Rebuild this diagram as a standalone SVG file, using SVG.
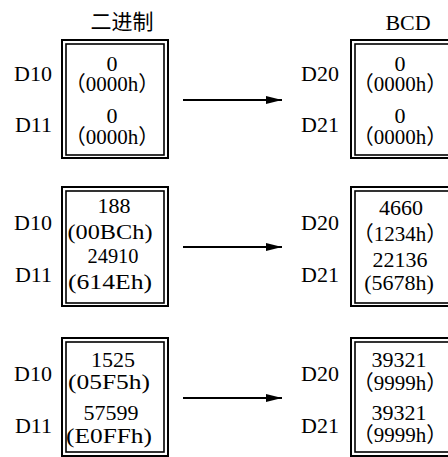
<svg xmlns="http://www.w3.org/2000/svg" width="448" height="457" viewBox="0 0 448 457">
<defs>
<style>
text{font-family:'Liberation Serif','Times New Roman','DejaVu Serif','Noto Sans CJK SC',serif;font-size:22px;fill:#000}
.c{text-anchor:middle}
.lbl{text-anchor:end}
.o{fill:none;stroke:#000;stroke-width:2}
.i{fill:none;stroke:#000;stroke-width:1.6}
.ln{stroke:#000;stroke-width:2;fill:none}
.p{font-size:21px}
</style>
<marker id="ah" markerWidth="16" markerHeight="8" refX="16" refY="4" orient="auto" markerUnits="userSpaceOnUse">
<path d="M0,0 L16,4 L0,8 Z" fill="#000"/>
</marker>
</defs>
<text class="c" x="122" y="29" style="font-family:'Noto Sans CJK SC',sans-serif;font-size:21px">二进制</text>
<text class="c" x="408" y="30">BCD</text>

<g id="bin1">
<rect class="o" x="62" y="40" width="106" height="118"/>
<rect class="i" x="66" y="44" width="98" height="111"/>
<text class="c" x="112" y="71">0</text>
<text class="c p" x="112" y="91">（0000h）</text>
<text class="c" x="112" y="123">0</text>
<text class="c p" x="112" y="144">（0000h）</text>
</g>
<g id="bcd1">
<rect class="o" x="351" y="40" width="106" height="118"/>
<rect class="i" x="355" y="44" width="98" height="111"/>
<text class="c" x="400" y="71">0</text>
<text class="c p" x="400" y="91">（0000h）</text>
<text class="c" x="400" y="123">0</text>
<text class="c p" x="400" y="144">（0000h）</text>
</g>
<g id="bin2">
<rect class="o" x="62" y="187" width="106" height="119"/>
<rect class="i" x="66" y="191" width="98" height="112"/>
<text class="c" x="114" y="213">188</text>
<text class="c" x="110" y="239" textLength="85" lengthAdjust="spacingAndGlyphs">(00BCh)</text>
<text class="c" x="113" y="263" textLength="51" lengthAdjust="spacingAndGlyphs">24910</text>
<text class="c" x="110" y="289" textLength="84" lengthAdjust="spacingAndGlyphs">(614Eh)</text>
</g>
<g id="bcd2">
<rect class="o" x="351" y="187" width="106" height="119"/>
<rect class="i" x="355" y="191" width="98" height="112"/>
<text class="c" x="401" y="215">4660</text>
<text class="c p" x="400" y="241">（1234h）</text>
<text class="c" x="400" y="267">22136</text>
<text class="c" x="399" y="290">(5678h)</text>
</g>
<g id="bin3">
<rect class="o" x="62" y="338" width="106" height="118"/>
<rect class="i" x="66" y="342" width="98" height="110"/>
<text class="c" x="113" y="367">1525</text>
<text class="c" x="109" y="389" textLength="82" lengthAdjust="spacingAndGlyphs">(05F5h)</text>
<text class="c" x="111" y="420">57599</text>
<text class="c" x="109" y="443" textLength="86" lengthAdjust="spacingAndGlyphs">(E0FFh)</text>
</g>
<g id="bcd3">
<rect class="o" x="351" y="338" width="106" height="118"/>
<rect class="i" x="355" y="342" width="98" height="110"/>
<text class="c" x="399" y="367">39321</text>
<text class="c p" x="400" y="390">（9999h）</text>
<text class="c" x="399" y="420">39321</text>
<text class="c p" x="400" y="442">（9999h）</text>
</g>

<g id="labels">
<text class="lbl" x="52" y="81">D10</text>
<text class="lbl" x="52" y="132">D11</text>
<text class="lbl" x="339" y="81">D20</text>
<text class="lbl" x="339" y="132">D21</text>
<text class="lbl" x="52" y="230">D10</text>
<text class="lbl" x="52" y="282">D11</text>
<text class="lbl" x="339" y="230">D20</text>
<text class="lbl" x="339" y="282">D21</text>
<text class="lbl" x="52" y="381">D10</text>
<text class="lbl" x="52" y="433">D11</text>
<text class="lbl" x="339" y="381">D20</text>
<text class="lbl" x="339" y="433">D21</text>
</g>

<g id="connectors">
<line class="ln" x1="183" y1="100" x2="282" y2="100" marker-end="url(#ah)"/>
<line class="ln" x1="183" y1="247" x2="282" y2="247" marker-end="url(#ah)"/>
<line class="ln" x1="183" y1="398" x2="282" y2="398" marker-end="url(#ah)"/>
</g>
</svg>
